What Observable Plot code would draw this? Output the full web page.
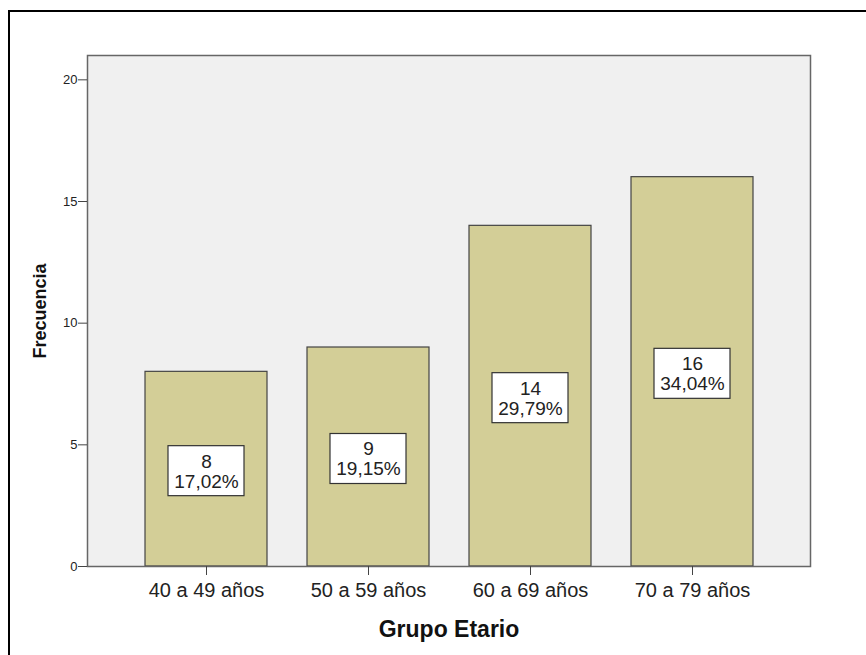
<!DOCTYPE html>
<html>
<head>
<meta charset="utf-8">
<script src="https://cdn.jsdelivr.net/npm/d3@7"></script>
<script src="https://cdn.jsdelivr.net/npm/@observablehq/plot@0.6"></script>
<style>
  html, body { margin: 0; padding: 0; background: #fff; overflow: hidden; }
  #wrap { position: relative; width: 866px; height: 655px; }
  #border { position: absolute; left: 8px; top: 10px; width: 900px; height: 700px; border: 2px solid #000; box-sizing: border-box; pointer-events: none; }
  #chart { position: absolute; left: 0; top: 0; }
</style>
</head>
<body>
<div id="wrap">
  <div id="chart"></div>
  <div id="border"></div>
</div>
<script>
const categories = ["40 a 49 años", "50 a 59 años", "60 a 69 años", "70 a 79 años"];
const counts = [8, 9, 14, 16];
const percents = ["17,02%", "19,15%", "29,79%", "34,04%"];
const yTicks = [0, 5, 10, 15, 20];
const xTitle = "Grupo Etario";
const yTitle = "Frecuencia";

const data = categories.map((c, i) => ({cat: c, count: counts[i], pct: percents[i]}));

const chart = Plot.plot({
  width: 866,
  height: 655,
  marginLeft: 87,
  marginRight: 56,
  marginTop: 55,
  marginBottom: 89,
  style: {fontFamily: "'Liberation Sans', Arial, sans-serif", background: "transparent", color: "#222"},
  x: {domain: categories, paddingInner: 0.25, paddingOuter: 0.343},
  y: {domain: [0, 21]},
  marks: [
    Plot.frame({fill: "#f0f0f0"}),
    Plot.barY(data, {x: "cat", y: "count", fill: "#d3ce97", stroke: "#444", strokeWidth: 1.2}),
    Plot.barY(data, {
      x: "cat", y1: d => d.count / 2, y2: d => d.count / 2,
      insetTop: -25, insetBottom: -25, insetLeft: 23, insetRight: 23,
      dy: 2, fill: "#fff", stroke: "#333", strokeWidth: 1.2
    }),
    Plot.text(data, {
      x: "cat", y: d => d.count / 2, text: d => `${d.count}\n${d.pct}`,
      dy: 2, fontSize: 19, lineHeight: 1.05, fill: "#222"
    }),
    Plot.frame({stroke: "#666", strokeWidth: 1.5}),
    Plot.axisY({ticks: yTicks, tickSize: 9, tickPadding: 1, fontSize: 13, label: null, stroke: "#444"}),
    Plot.axisX({tickSize: 9, tickPadding: 7, fontSize: 20, label: null, stroke: "#444"}),
    Plot.text([xTitle], {frameAnchor: "bottom", dy: 63, fontSize: 23, fontWeight: "bold", fill: "#111", lineAnchor: "middle"}),
    Plot.text([yTitle], {frameAnchor: "left", dx: -47, rotate: -90, textAnchor: "middle", lineAnchor: "middle", fontSize: 18, fontWeight: "bold", fill: "#111"})
  ]
});
document.getElementById("chart").appendChild(chart);
</script>
</body>
</html>
